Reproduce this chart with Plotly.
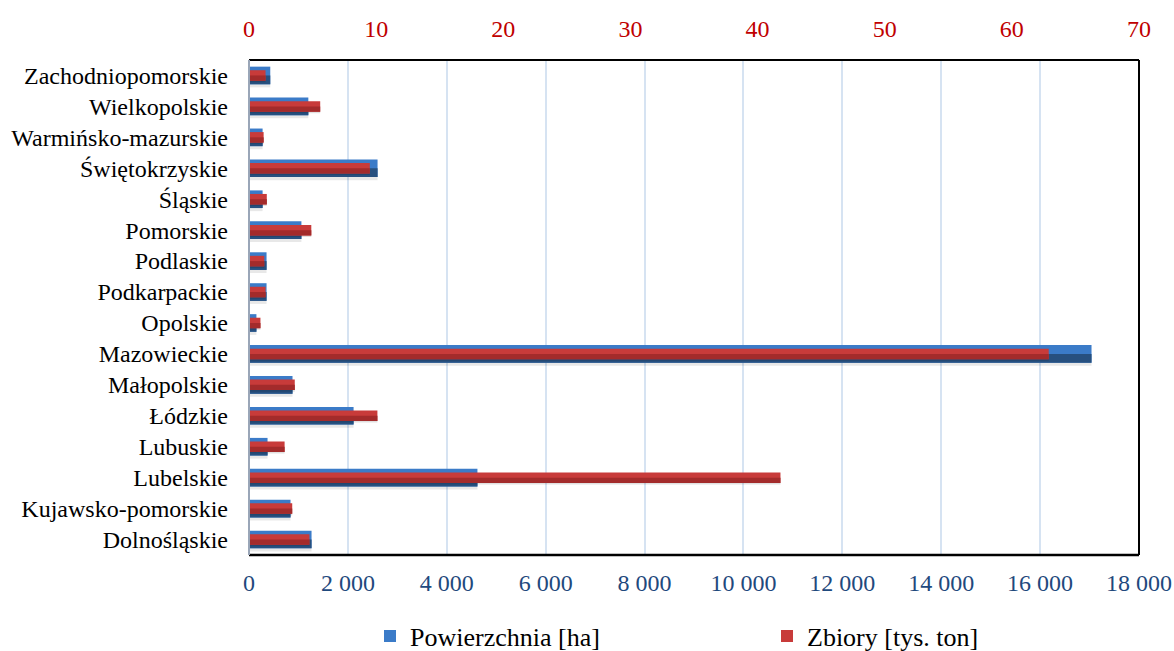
import plotly.graph_objects as go

# Regions (bottom to top as drawn)
regions = [
    "Dolnośląskie", "Kujawsko-pomorskie", "Lubelskie", "Lubuskie", "Łódzkie",
    "Małopolskie", "Mazowieckie", "Opolskie", "Podkarpackie", "Podlaskie",
    "Pomorskie", "Śląskie", "Świętokrzyskie", "Warmińsko-mazurskie",
    "Wielkopolskie", "Zachodniopomorskie",
]
# Area [ha]
area_ha = [1265, 840, 4620, 375, 2115, 880, 17040, 150, 355, 355,
           1060, 275, 2600, 275, 1200, 430]
# Harvest [thousand tonnes]
harvest_kt = [4.75, 3.4, 41.8, 2.8, 10.1, 3.6, 62.9, 0.9, 1.3, 1.2,
              4.9, 1.4, 9.5, 1.15, 5.6, 1.3]

x_ticks_bottom = list(range(0, 18001, 2000))
x_ticks_top = list(range(0, 71, 10))

SERIF = "Liberation Serif, Times New Roman, serif"
BLUE_LIGHT, BLUE_DARK = "#3B7BC8", "#27507F"
RED_LIGHT, RED_DARK = "#C83B3A", "#A32B2B"

W_BLUE, W_RED = 0.57, 0.34

fig = go.Figure()

# soft shadow under the area bars
fig.add_trace(go.Bar(
    y=regions, x=area_ha, orientation="h", xaxis="x", yaxis="y",
    width=0.10, offset=-W_BLUE / 2 - 0.10,
    marker=dict(color="rgba(0,0,0,0.09)", line=dict(width=0)),
    showlegend=False, hoverinfo="skip",
))
# area bars: light upper half, dark lower half
fig.add_trace(go.Bar(
    y=regions, x=area_ha, orientation="h", xaxis="x", yaxis="y",
    width=W_BLUE, offset=-W_BLUE / 2,
    marker=dict(color=BLUE_LIGHT, line=dict(width=0)),
    name="Powierzchnia [ha]", legendgroup="a",
))
fig.add_trace(go.Bar(
    y=regions, x=area_ha, orientation="h", xaxis="x", yaxis="y",
    width=W_BLUE / 2, offset=-W_BLUE / 2,
    marker=dict(color=BLUE_DARK, line=dict(width=0)),
    showlegend=False, legendgroup="a", hoverinfo="skip",
))
# shadow under harvest bars
fig.add_trace(go.Bar(
    y=regions, x=harvest_kt, orientation="h", xaxis="x2", yaxis="y",
    width=0.05, offset=-W_RED / 2 - 0.05,
    marker=dict(color="rgba(0,0,0,0.12)", line=dict(width=0)),
    showlegend=False, hoverinfo="skip",
))
# harvest bars: light upper half, dark lower half
fig.add_trace(go.Bar(
    y=regions, x=harvest_kt, orientation="h", xaxis="x2", yaxis="y",
    width=W_RED, offset=-W_RED / 2,
    marker=dict(color=RED_LIGHT, line=dict(width=0)),
    name="Zbiory [tys. ton]", legendgroup="b",
))
fig.add_trace(go.Bar(
    y=regions, x=harvest_kt, orientation="h", xaxis="x2", yaxis="y",
    width=W_RED / 2, offset=-W_RED / 2,
    marker=dict(color=RED_DARK, line=dict(width=0)),
    showlegend=False, legendgroup="b", hoverinfo="skip",
))

fig.update_layout(
    width=1174, height=651,
    margin=dict(l=249, r=35, t=60, b=96, autoexpand=False),
    paper_bgcolor="white", plot_bgcolor="white",
    barmode="overlay",
    separators=", ",
    font=dict(family=SERIF, size=24, color="black"),
    xaxis=dict(
        range=[0, 18000], tickvals=x_ticks_bottom, tickformat=",d",
        showgrid=True, gridcolor="#D6E3F2", gridwidth=2,
        zeroline=False, showline=False, ticks="", automargin=False,
        tickfont=dict(family=SERIF, size=24, color="#1F497D"),
        ticklabelstandoff=11,
    ),
    xaxis2=dict(
        range=[0, 70], tickvals=x_ticks_top, overlaying="x", side="top",
        showgrid=False, zeroline=False, showline=False, ticks="", automargin=False,
        tickfont=dict(family=SERIF, size=24, color="#C00000"),
        ticklabelstandoff=17,
    ),
    yaxis=dict(
        type="category", categoryorder="array", categoryarray=regions,
        range=[-0.5, len(regions) - 0.5], automargin=False,
        showgrid=False, zeroline=False, showline=False, ticks="",
        tickfont=dict(family=SERIF, size=24, color="black"),
        ticklabelstandoff=20,
    ),
    legend=dict(
        orientation="h", xref="container", yref="container",
        x=370 / 1174, xanchor="left", y=1 - 636 / 651, yanchor="middle",
        entrywidth=352, entrywidthmode="pixels",
        font=dict(family=SERIF, size=26, color="black"),
        itemsizing="constant", traceorder="normal",
    ),
    shapes=[
        # frame: top, right, bottom in black, left axis in grey
        dict(type="line", xref="paper", yref="paper", x0=0, x1=1, y0=1, y1=1,
             line=dict(color="black", width=2)),
        dict(type="line", xref="paper", yref="paper", x0=1, x1=1, y0=0, y1=1,
             line=dict(color="black", width=2)),
        dict(type="line", xref="paper", yref="paper", x0=0, x1=1, y0=0, y1=0,
             line=dict(color="black", width=2.5)),
        dict(type="line", xref="paper", yref="paper", x0=0, x1=0, y0=0, y1=1,
             line=dict(color="#9AA6B8", width=2)),
    ],
)

fig.write_html("out.html")
